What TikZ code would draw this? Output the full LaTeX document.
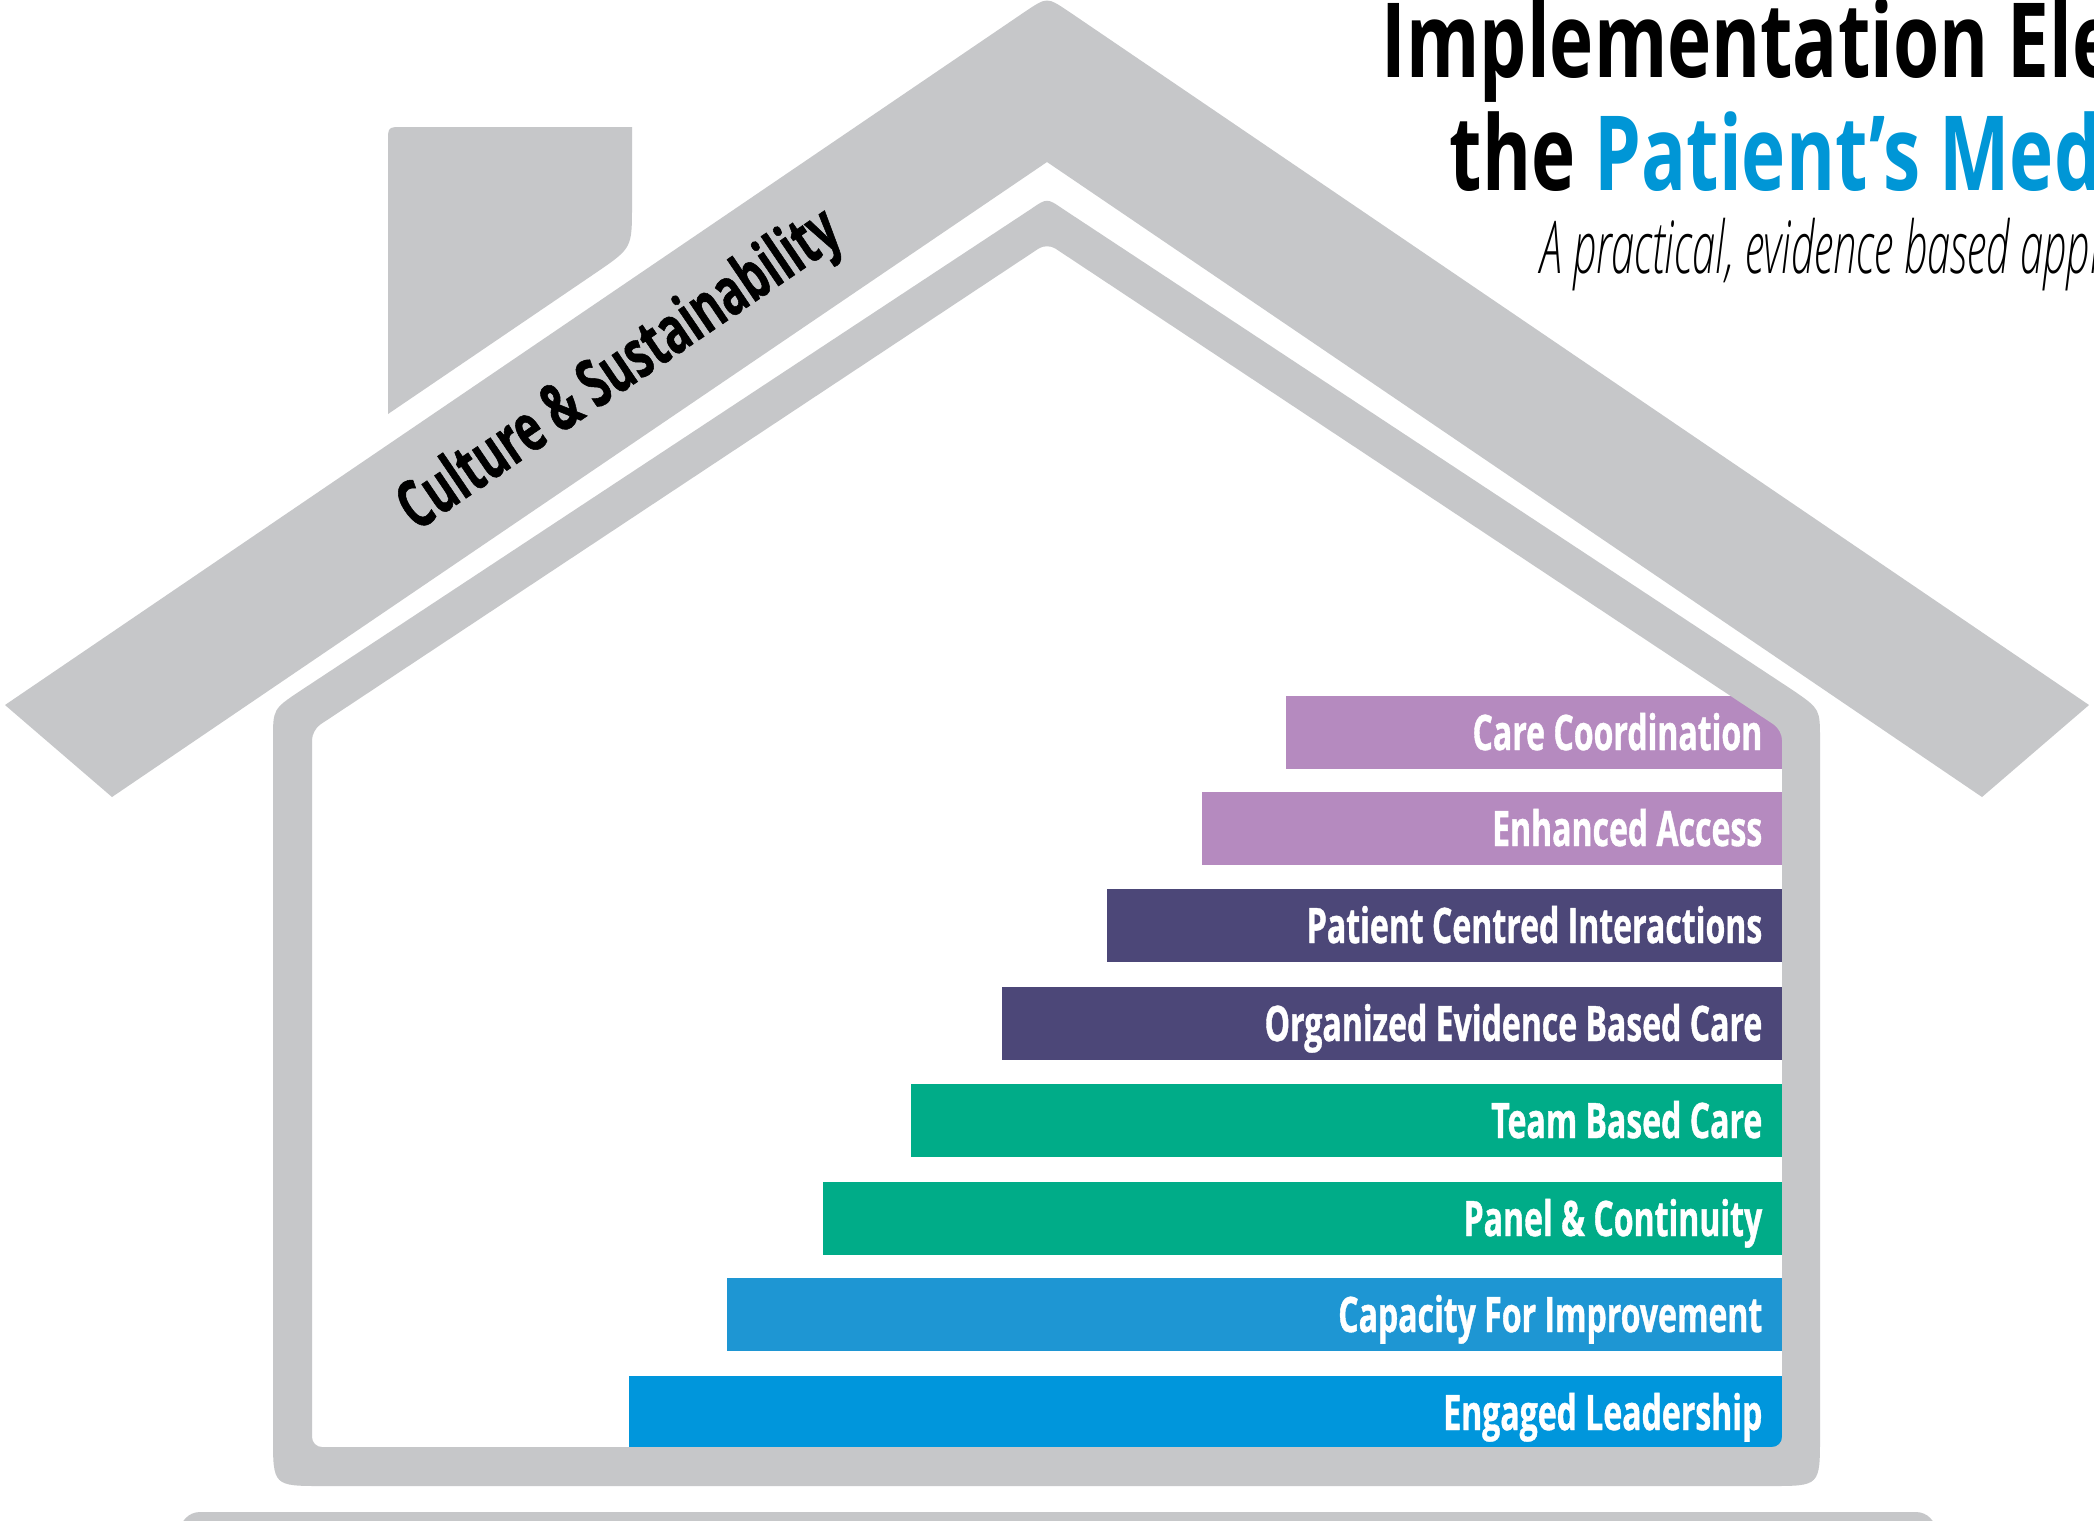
\documentclass[tikz,border=0pt]{standalone}
\usepackage{fontspec}
\newfontfamily\barfont{Open Sans}[FakeStretch=0.655, FakeBold=0.8]
\newfontfamily\headfont{Open Sans}[FakeStretch=0.72]
\IfFontExistsTF{Open Sans Light Italic}
    {\newfontfamily\tagfont{Open Sans Light Italic}[FakeStretch=0.573]}
    {\newfontfamily\tagfont{Open Sans}[FakeStretch=0.55, UprightFont=*-Italic]}

\definecolor{housegray}{RGB}{198,199,201}
\definecolor{lilac}{RGB}{181,138,191}
\definecolor{plum}{RGB}{76,71,120}
\definecolor{teal}{RGB}{0,172,136}
\definecolor{capblue}{RGB}{30,150,211}
\definecolor{leadblue}{RGB}{0,150,220}
\definecolor{titleblue}{RGB}{0,150,214}

\begin{document}
\begin{tikzpicture}[x=0.01cm, y=-0.01cm,
    rungtext/.style={text=white, anchor=base east, inner sep=0pt,
        font=\barfont\bfseries\fontsize{13.9}{16}\selectfont}]
    \useasboundingbox (0,0) rectangle (2094,1520);
    \clip (0,0) rectangle (2094,1520);
    \fill[white] (0,0) rectangle (2094,1520);

    \def\rung#1#2#3#4#5{
        \fill[#3] (#1,#2) rectangle (1782,#2+73);
        \node[rungtext] (#4) at (1763,#2+54) {#5};
    }

    % Elements (bottom of the stack is the last one)
    \rung{1286}{696}{lilac}{cc}{Care Coordination}
    \rung{1202}{792}{lilac}{ea}{Enhanced Access}
    \rung{1107}{889}{plum}{pci}{Patient Centred Interactions}
    \rung{1002}{987}{plum}{oebc}{Organized Evidence Based Care}
    \rung{911}{1084}{teal}{tbc}{Team Based Care}
    \rung{823}{1182}{teal}{pc}{Panel \& Continuity}
    \rung{727}{1278}{capblue}{cfi}{Capacity For Improvement}
    \rung{629}{1376}{leadblue}{el}{Engaged Leadership}

    % House walls
    \fill[housegray, even odd rule]
        (1000,1486) -- (323,1486) .. controls (273,1486) .. (273,1436)
        -- (273,740) .. controls (273,709) .. (300,691)
        -- (1031,209) .. controls (1047,198) .. (1063,209)
        -- (1794,691) .. controls (1820,709) .. (1820,740)
        -- (1820,1436) .. controls (1820,1486) .. (1770,1486) -- cycle
        [rounded corners=1mm] (1000,1447) -- (312,1447) -- (312,730) -- (1047,243)
            -- (1782,730) -- (1782,1447) -- cycle;

    % Chimney
    \fill[housegray] (388,414) -- (388,142) .. controls (388,127) .. (403,127)
        -- (632,127) -- (632,205) .. controls (632,248) .. (597,272) -- cycle;

    % Roof
    \fill[housegray] (5,705) -- (1026,11) .. controls (1047,-3) .. (1068,11)
        -- (2089,705) -- (1982,797) -- (1047,162) -- (112,797) -- cycle;
    \node[rotate=34.2, inner sep=0pt, font=\barfont\bfseries\fontsize{19}{22}\selectfont]
        (culture) at (621,372) {Culture \& Sustainability};

    % Ground
    \fill[housegray, rounded corners=2mm] (180,1512) rectangle (1936,1600);

    % Title
    \node[anchor=base west, inner sep=0pt, font=\headfont\bfseries\fontsize{29.5}{32}\selectfont]
        (title1) at (1381,77) {Implementation Elements};
    \node[anchor=base west, inner sep=0pt, font=\headfont\bfseries\fontsize{29.5}{32}\selectfont]
        (title2) at (1449,190) {the \textcolor{titleblue}{Patient’s Medical}};
    \node[anchor=base west, inner sep=0pt, font=\tagfont\fontsize{20.7}{24}\selectfont]
        (subtitle) at (1540,273) {A practical, evidence based approach};
\end{tikzpicture}
\end{document}
